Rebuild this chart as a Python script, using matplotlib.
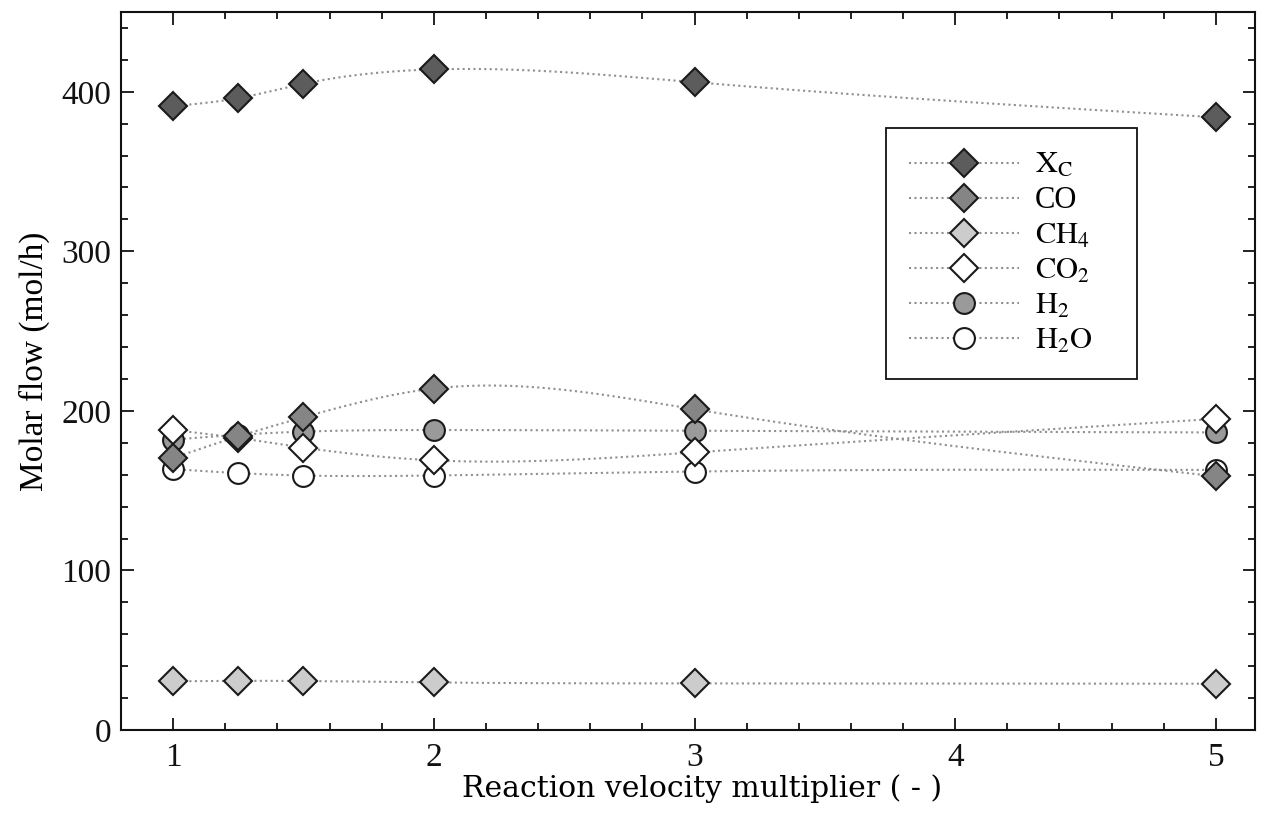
import numpy as np
import matplotlib
matplotlib.use("Agg")
import matplotlib.pyplot as plt
from matplotlib.ticker import MultipleLocator

# reaction velocity multiplier
x = [1, 1.25, 1.5, 2, 3, 5]

# molar flows (mol/h)
xc = [391, 396, 405, 414, 406, 384]
co = [170.5, 184, 196, 214, 201, 159]
ch4 = [30.5, 30.8, 30.7, 29.8, 29.2, 29.0]
co2 = [188, 183, 177, 169, 174, 195]
h2 = [182, 185, 187, 188, 187.5, 186.5]
h2o = [163.5, 161, 159.5, 159.5, 162, 163]

labels = [r'$\mathrm{X_C}$', 'CO', r'$\mathrm{CH_4}$', r'$\mathrm{CO_2}$',
          r'$\mathrm{H_2}$', r'$\mathrm{H_2O}$']


def natural_spline(xs, ys, n=300):
    # smooth curve through the points, for drawing the dotted lines only
    xs = np.asarray(xs, float)
    ys = np.asarray(ys, float)
    m = len(xs)
    h = np.diff(xs)
    A = np.zeros((m, m))
    rhs = np.zeros(m)
    A[0, 0] = A[-1, -1] = 1
    for i in range(1, m - 1):
        A[i, i - 1] = h[i - 1]
        A[i, i] = 2 * (h[i - 1] + h[i])
        A[i, i + 1] = h[i]
        rhs[i] = 3 * ((ys[i + 1] - ys[i]) / h[i] - (ys[i] - ys[i - 1]) / h[i - 1])
    c = np.linalg.solve(A, rhs)
    b = (ys[1:] - ys[:-1]) / h - h * (2 * c[:-1] + c[1:]) / 3
    d = (c[1:] - c[:-1]) / (3 * h)
    xx = np.linspace(xs[0], xs[-1], n)
    idx = np.clip(np.searchsorted(xs, xx, side='right') - 1, 0, m - 2)
    t = xx - xs[idx]
    yy = ys[idx] + b[idx] * t + c[idx] * t ** 2 + d[idx] * t ** 3
    return xx, yy


plt.rcParams['font.family'] = 'Liberation Serif'
plt.rcParams['mathtext.fontset'] = 'stix'

fig = plt.figure(figsize=(12.71, 8.32), dpi=100)
ax = fig.add_axes([0.0952, 0.1226, 0.8922, 0.863])

# (values, marker, face colour, size, zorder)
series = [
    (xc, 'D', '#5c5c5c', 14.5, 5),
    (co, 'D', '#858585', 14.5, 5),
    (ch4, 'D', '#cccccc', 14.5, 5),
    (co2, 'D', 'white', 14.5, 4),
    (h2, 'o', '#9a9a9a', 15, 3),
    (h2o, 'o', 'white', 15, 3),
]

line_kw = dict(color='#8f8f8f', linestyle=(0, (1, 1.6)), linewidth=1.5)
handles = []
for (ys, mk, fc, ms, z), lab in zip(series, labels):
    sx, sy = natural_spline(x, ys)
    ax.plot(sx, sy, zorder=2, **line_kw)
    ax.plot(x, ys, linestyle='none', marker=mk, markersize=ms,
            markerfacecolor=fc, markeredgecolor='#1a1a1a',
            markeredgewidth=1.5, zorder=z)
    h, = ax.plot([], [], marker=mk, markersize=ms, markerfacecolor=fc,
                 markeredgecolor='#1a1a1a', markeredgewidth=1.5,
                 label=lab, **line_kw)
    handles.append(h)

ax.set_xlim(0.8, 5.15)
ax.set_ylim(0, 450)
ax.xaxis.set_major_locator(MultipleLocator(1))
ax.xaxis.set_minor_locator(MultipleLocator(0.2))
ax.yaxis.set_major_locator(MultipleLocator(100))
ax.yaxis.set_minor_locator(MultipleLocator(20))
ax.tick_params(which='both', direction='in', top=True, right=True,
               width=1.3, colors='#111111')
ax.tick_params(which='major', length=9, labelsize=24)
ax.tick_params(which='minor', length=5)
ax.tick_params(axis='x', which='major', pad=9)
ax.tick_params(axis='y', which='major', pad=7)
for s in ax.spines.values():
    s.set_linewidth(1.5)
    s.set_color('#111111')

ax.set_ylabel('Molar flow (mol/h)', fontsize=24, labelpad=8)
ax.yaxis.label.set_y(0.514)
ax.set_xlabel('Reaction velocity multiplier ( - )', fontsize=21.5,
              fontfamily='DejaVu Serif', labelpad=1)
ax.xaxis.label.set_x(0.512)

leg = ax.legend(handles=handles, loc='upper left',
                bbox_to_anchor=(0.675, 0.497, 0.221, 0.341), mode='expand',
                borderaxespad=0, fontsize=22, numpoints=1,
                handlelength=3.6, handletextpad=0.5, labelspacing=0.2,
                borderpad=0.75, fancybox=False, framealpha=1,
                edgecolor='#111111')
leg.get_frame().set_linewidth(1.3)

fig.savefig('out.png', dpi=100)
